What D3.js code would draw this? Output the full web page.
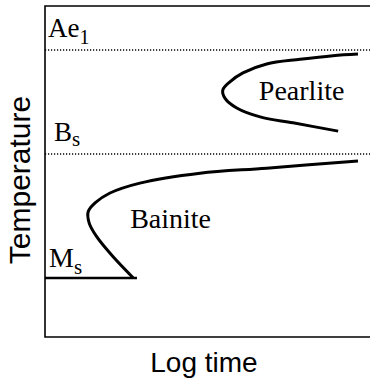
<!DOCTYPE html>
<html>
<head>
<meta charset="utf-8">
<script src="https://cdn.jsdelivr.net/npm/d3@7"></script>
<style>
  html, body { margin: 0; padding: 0; background: #fff; }
</style>
</head>
<body>
<div id="chart"></div>
<script>
// Schematic TTT diagram, both axes on a 0–100 relative scale
const pearlite = [
  [96.3, 85.5], [88.6, 85.0], [78.5, 83.9], [68.2, 82.5], [60.9, 79.8],
  [56.9, 77.1], [54.7, 74.6], [55.4, 72.1], [59.0, 69.2], [66.2, 66.5],
  [76.3, 64.7], [90.2, 62.2]
]
const bainite = [
  [96.3, 53.2], [68.2, 51.0], [47.7, 49.5], [29.2, 46.5], [20.0, 43.5],
  [15.4, 40.5], [13.3, 37.9], [13.6, 34.4], [15.9, 30.3], [20.9, 24.3],
  [27.1, 17.9]
]
const levels = [
  { name: "Ae", sub: "1", temp: 86.7 },
  { name: "B", sub: "s", temp: 55.3 }
]
const msTemp = 17.8
const msEnd = 28.3
const regionLabels = [
  { text: "Pearlite", t: 65.8, temp: 71.6 },
  { text: "Bainite", t: 26.2, temp: 32.9 }
]

const width = 370
const height = 379
const marginLeft = 45, plotTop = 6, plotBottom = 337

const svg = d3.select("#chart")
  .append("svg")
  .attr("width", width)
  .attr("height", height)

const x = d3.scaleLinear().domain([0, 100]).range([marginLeft, width])
const y = d3.scaleLinear().domain([0, 100]).range([plotBottom, plotTop])

const serif = "'Liberation Serif', 'Times New Roman', serif"
const sans = "'Liberation Sans', Arial, sans-serif"

// frame: left, top and bottom only (open on the right)
svg.append("path")
  .attr("d", `M${width},${y(100)}H${x(0)}V${y(0)}H${width}`)
  .attr("fill", "none")
  .attr("stroke", "#000")
  .attr("stroke-width", 1.6)

// dotted start lines
svg.selectAll(".level")
  .data(levels)
  .enter()
  .append("line")
  .attr("class", "level")
  .attr("x1", x(0))
  .attr("x2", width)
  .attr("y1", d => y(d.temp))
  .attr("y2", d => y(d.temp))
  .attr("stroke", "#000")
  .attr("stroke-width", 1.4)
  .attr("stroke-dasharray", "1.2,1.8")

const levelText = svg.selectAll(".level-label")
  .data(levels)
  .enter()
  .append("text")
  .attr("class", "level-label")
  .attr("x", (d, i) => i === 0 ? x(0) + 3 : x(0) + 9)
  .attr("y", d => y(d.temp) - 13)
  .style("font-family", serif)
  .style("font-size", "27px")
levelText.append("tspan").text(d => d.name)
levelText.append("tspan")
  .attr("dy", d => d.sub === "1" ? 7 : 5)
  .style("font-size", d => d.sub === "1" ? "20px" : "21px")
  .text(d => d.sub)

// Ms line
svg.append("line")
  .attr("x1", x(0))
  .attr("x2", x(msEnd))
  .attr("y1", y(msTemp))
  .attr("y2", y(msTemp))
  .attr("stroke", "#000")
  .attr("stroke-width", 2.5)

const msText = svg.append("text")
  .attr("x", x(0) + 4)
  .attr("y", y(msTemp) - 11)
  .style("font-family", serif)
  .style("font-size", "28px")
msText.append("tspan").text("M")
msText.append("tspan").attr("dy", 7).style("font-size", "21px").text("s")

// C-curves
const line = d3.line()
  .x(d => x(d[0]))
  .y(d => y(d[1]))
  .curve(d3.curveCatmullRom.alpha(0.5))

svg.selectAll(".curve")
  .data([pearlite, bainite])
  .enter()
  .append("path")
  .attr("class", "curve")
  .attr("d", line)
  .attr("fill", "none")
  .attr("stroke", "#000")
  .attr("stroke-width", 3)
  .attr("stroke-linecap", "butt")

svg.selectAll(".region")
  .data(regionLabels)
  .enter()
  .append("text")
  .attr("class", "region")
  .attr("x", d => x(d.t))
  .attr("y", d => y(d.temp))
  .style("font-family", serif)
  .style("font-size", "28px")
  .text(d => d.text)

// axis titles
svg.append("text")
  .attr("x", 204)
  .attr("y", 372)
  .attr("text-anchor", "middle")
  .style("font-family", sans)
  .style("font-size", "28px")
  .text("Log time")

svg.append("text")
  .attr("transform", "translate(30,180) rotate(-90)")
  .attr("text-anchor", "middle")
  .style("font-family", sans)
  .style("font-size", "30px")
  .text("Temperature")
</script>
</body>
</html>
